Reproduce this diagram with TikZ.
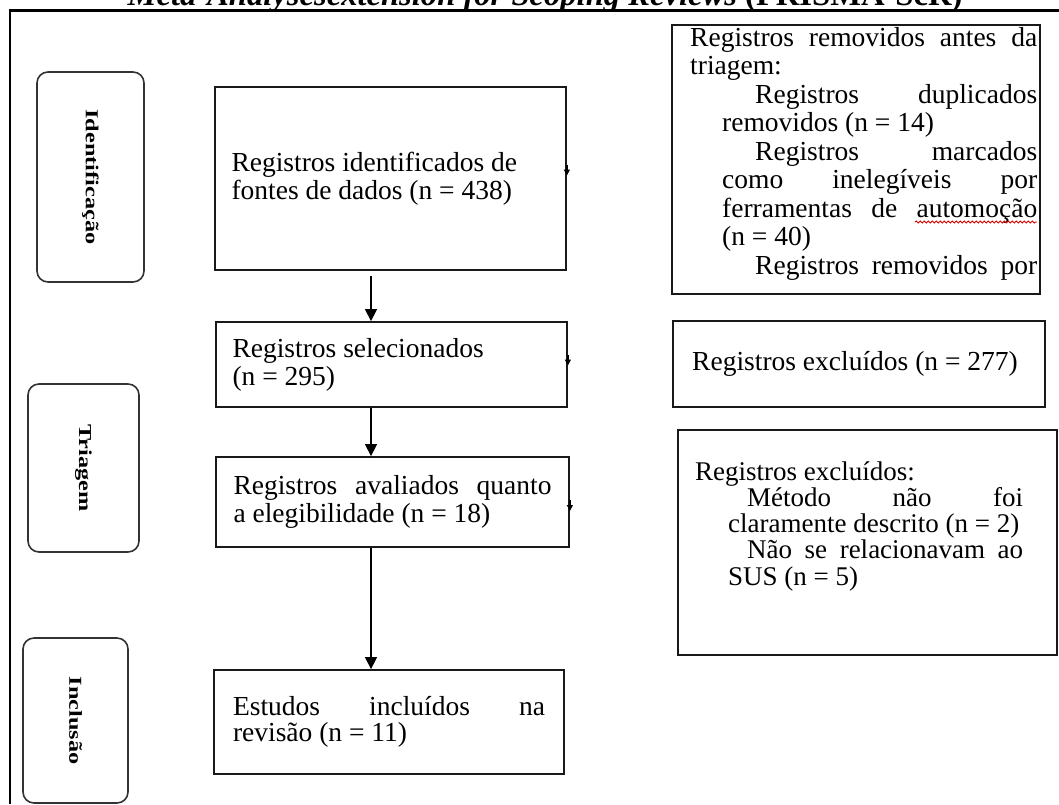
\documentclass[tikz,border=0pt]{standalone}
\usepackage{fontspec}
\setmainfont{Liberation Serif}
\usepackage{graphicx}
\usetikzlibrary{arrows.meta,calc,decorations.pathmorphing}

\tikzset{
  box/.style={draw=black!90, line width=1.8pt, rectangle, inner sep=0pt},
  sidebox/.style={draw=black!80, line width=1.6pt, rounded corners=11pt, inner sep=0pt,
    font=\fontsize{24.3}{26}\selectfont\bfseries},
  flowarrow/.style={line width=1.4pt, -{Triangle[width=12pt,length=12pt]}},
  tickarrow/.style={line width=1.4pt, -{Triangle[width=6pt,length=6pt]}},
  txt/.style={inner sep=0pt, font=\fontsize{27.5}{28}\selectfont},
  frameline/.style={line width=2.5pt, black},
  wavy/.style={red!85!black, line width=0.9pt, decorate,
    decoration={snake, segment length=4pt, amplitude=1pt}},
}

\begin{document}
\begin{tikzpicture}[x=1pt,y=-1pt]
\useasboundingbox (0,0) rectangle (1059,804);
\clip (0,0) rectangle (1059,804);

% title (cut at the top)
\node[inner sep=0pt, anchor=base, font=\fontsize{32.6}{34}\selectfont\bfseries] (title) at (545,5)
  {\itshape Meta-Analysesextension for Scoping Reviews \upshape(PRISMA-ScR)};

% outer frame
\draw[frameline] (10,804) -- (10,10.5) -- (1059,10.5);

% side labels
\node[sidebox, rotate=-90, minimum width=210pt, minimum height=107pt] (sid) at (90.5,177)
  {\scalebox{1}[0.75]{Identificação}};
\node[sidebox, rotate=-90, minimum width=168pt, minimum height=111pt] (stri) at (83.5,468)
  {\scalebox{1}[0.75]{Triagem}};
\node[sidebox, rotate=-90, minimum width=165pt, minimum height=105pt] (sinc) at (75.5,720.5)
  {\scalebox{1}[0.75]{Inclusão}};

% main column
\node[box, txt, minimum width=351pt, minimum height=183pt] (b1) at (390.5,178.5)
  {\begin{minipage}{318pt}\fontsize{27.5}{28}\selectfont
   Registros identificados de\\ fontes de dados (n = 438)\end{minipage}};
\node[box, txt, minimum width=351pt, minimum height=85pt] (b2) at (391.5,364.5)
  {\begin{minipage}{318pt}\fontsize{27.5}{28}\selectfont
   Registros selecionados\\ (n = 295)\end{minipage}};
\node[box, txt, minimum width=353pt, minimum height=90pt] (b3) at (392.5,502)
  {\begin{minipage}{318pt}\fontsize{27.5}{28}\selectfont
   Registros avaliados quanto\linebreak a elegibilidade (n = 18)\end{minipage}};
\node[box, txt, minimum width=350pt, minimum height=104pt] (b4) at (389,722)
  {\begin{minipage}{312pt}\fontsize{27.5}{26.5}\selectfont
   Estudos incluídos na\linebreak revisão (n = 11)\end{minipage}};

% right column boxes
\node[box, minimum width=368pt, minimum height=269pt] (r1) at (856,159.5) {};
\node[box, minimum width=372pt, minimum height=86pt] (r2) at (859,364) {};
\node[box, minimum width=379pt, minimum height=225pt] (r3) at (867.5,542.5) {};

\node[txt, anchor=base west] (r1t) at (690,46)
  {\begin{minipage}[t]{347pt}\fontsize{27.5}{28.5}\selectfont
   \noindent Registros removidos antes da\linebreak triagem:\par
   \leftskip=32pt \parindent=33pt
   Registros duplicados\linebreak removidos (n = 14)\par
   Registros marcados\linebreak como inelegíveis por\linebreak ferramentas de automoção\linebreak (n = 40)\par
   Registros removidos por\linebreak\null\par
   \end{minipage}};
\draw[wavy] (915,222) -- (1037,222);

\node[txt, anchor=base west] (r2t) at (692,370) {Registros excluídos (n = 277)};

\node[txt, anchor=base west] (r3t) at (695,480)
  {\begin{minipage}[t]{345pt}\fontsize{27}{26.3}\selectfont\raggedright
   Registros excluídos:\\
   \hspace*{52pt}\makebox[276pt][s]{Método não foi}\\
   \hspace*{33pt}claramente descrito (n = 2)\\
   \hspace*{52pt}\makebox[276pt][s]{Não se relacionavam ao}\\
   \hspace*{33pt}SUS (n = 5)
   \end{minipage}};

% connectors
\coordinate (ax) at (371,0);
\draw[flowarrow] ($(b1.south -| ax)+(0,5)$) -- (b2.north -| ax);
\draw[flowarrow] (b2.south -| ax) -- (b3.north -| ax);
\draw[flowarrow] (b3.south -| ax) -- (b4.north -| ax);

% small arrowheads on the right edges
\draw[tickarrow] ($(b1.east)+(0,-14)$) -- ($(b1.east)+(0,-3)$);
\draw[tickarrow] ($(b2.east)+(0,-10)$) -- ($(b2.east)+(0,1)$);
\draw[tickarrow] ($(b3.east)+(0,-2)$) -- ($(b3.east)+(0,9)$);
\end{tikzpicture}
\end{document}
